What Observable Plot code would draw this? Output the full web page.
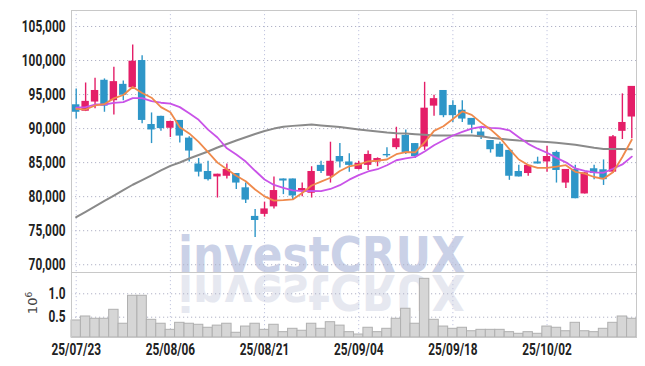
<!DOCTYPE html>
<html><head><meta charset="utf-8">
<script src="https://cdn.jsdelivr.net/npm/d3@7"></script>
<script src="https://cdn.jsdelivr.net/npm/@observablehq/plot@0.6"></script>
<style>
body{margin:0;background:#fff;}
#wrap{position:relative;width:645px;height:366px;overflow:hidden;background:#fff;}
#wrap svg{position:absolute;left:0;}
</style></head><body><div id="wrap"></div>
<script>
const dates = ["2025-07-23","2025-07-24","2025-07-25","2025-07-28","2025-07-29","2025-07-30","2025-07-31","2025-08-01","2025-08-04","2025-08-05","2025-08-06","2025-08-07","2025-08-08","2025-08-11","2025-08-12","2025-08-13","2025-08-14","2025-08-18","2025-08-19","2025-08-20","2025-08-21","2025-08-22","2025-08-25","2025-08-26","2025-08-27","2025-08-28","2025-08-29","2025-09-01","2025-09-02","2025-09-03","2025-09-04","2025-09-05","2025-09-08","2025-09-09","2025-09-10","2025-09-11","2025-09-12","2025-09-15","2025-09-16","2025-09-17","2025-09-18","2025-09-19","2025-09-22","2025-09-23","2025-09-24","2025-09-25","2025-09-26","2025-09-29","2025-09-30","2025-10-01","2025-10-02","2025-10-10","2025-10-13","2025-10-14","2025-10-15","2025-10-16","2025-10-17","2025-10-20","2025-10-21","2025-10-22"];
const open  = [93500,92550,93900,97100,94100,96500,96000,100000,90600,91800,90050,91200,88600,84800,83700,82900,83000,83400,81300,77100,77400,78500,82600,82600,80800,80500,84600,83000,85900,85100,84000,84600,85100,86200,87200,89000,87800,87300,93300,95600,93400,92700,91500,89500,88250,87700,86800,83700,83400,85100,85100,86500,82000,84000,80400,84100,83950,83600,89600,91700];
const high  = [95800,96700,97400,97300,99000,97000,102300,100700,92300,91800,91100,91200,88800,85600,85200,83300,84800,83400,82000,78100,79200,82900,82600,82600,82000,84400,85200,88000,87800,86300,85200,86700,85700,87200,90200,89800,87800,96800,94900,95600,94100,94100,91500,90000,88250,88000,86800,84600,84600,85800,87400,86700,84000,84600,83500,84600,85400,89000,95100,96200];
const low   = [91400,92500,92900,92400,92000,94100,95800,90700,87800,89600,88700,87900,85100,82900,82300,79800,82600,81050,79000,74000,77000,78200,80300,79500,80000,79800,83400,82000,84200,83600,83900,83850,84400,85700,86900,86200,85600,86800,91800,91600,90900,90900,89250,88400,86400,85800,82400,82900,83000,84800,83600,82000,81200,79700,80400,82500,81650,83400,88400,88500];
const close = [92400,94000,95600,93300,96900,94900,99900,91200,89800,90000,91050,88900,86700,83600,82500,83300,84000,82000,79500,76500,78200,80900,82300,80100,81200,83700,83700,85200,85100,84600,84900,86200,85600,86000,88500,86500,85900,93000,94400,91900,91900,91400,90500,88700,86900,85800,83000,82900,84600,84800,85900,83850,84000,79700,83500,83400,82500,88800,90900,96200];
const ma5   = [92900,92800,93400,93600,94440,94940,96120,95240,94540,93160,92390,90190,89290,88050,86550,85000,84020,83080,82260,81060,80040,79420,79480,79600,80540,81640,82200,82780,83780,84460,84700,85200,85280,85460,86240,86560,86500,87980,89660,90340,91420,92520,92020,90880,89880,88660,86980,85460,84640,84220,84240,84410,84630,83650,83390,82890,82620,83580,85820,88360];
const ma10  = [93060,93150,93540,93540,93790,93880,94470,94470,94030,93800,93665,93155,92265,91295,89855,88695,87105,86185,85155,83805,82520,81720,81280,80930,80800,80840,80810,81130,81690,82500,83170,83700,84030,84620,85350,85630,85850,86630,87560,88290,88990,89510,90000,90270,90110,90040,89750,88740,87760,87050,86450,85695,85045,84145,83805,83565,83515,84105,84735,85875];
const ma60  = [76990,77780,78570,79370,80160,80950,81750,82440,83140,83850,84520,85020,85610,86120,86640,87230,87740,88250,88720,89210,89650,90000,90280,90400,90500,90600,90470,90340,90220,90050,89870,89710,89580,89430,89330,89280,89180,89080,88990,88990,88990,88990,88990,88890,88650,88500,88370,88240,88170,88110,88030,87920,87780,87620,87400,87180,87020,87000,86990,86970];
const volume = [430000,515000,466000,466000,658000,360000,957000,957000,444000,360000,230000,380000,360000,338000,274000,320000,360000,167000,300000,360000,230000,338000,180000,252000,210000,360000,252000,393000,320000,180000,130000,274000,180000,252000,466000,680000,360000,1320000,444000,300000,252000,274000,200000,230000,230000,230000,180000,145000,180000,145000,300000,274000,200000,380000,200000,180000,252000,380000,515000,466000];
const priceTicks = [70000,75000,80000,85000,90000,95000,100000,105000];
const volTicks = [500000,1000000];
const dateTicks = ["2025-07-23","2025-08-06","2025-08-21","2025-09-04","2025-09-18","2025-10-02"];

const UP = "#e41e68", DOWN = "#2e96c8";
const rows = dates.map((d,i)=>({date:d, open:open[i], high:high[i], low:low[i], close:close[i], ma5:ma5[i], ma10:ma10[i], ma60:ma60[i], volume:volume[i]}));
const col = d => d.close >= d.open ? UP : DOWN;
const fmtDate = d => d.slice(2).replace(/-/g,"/");
const FONT = 'Roboto,"DejaVu Sans",sans-serif';
const baseStyle = {background:"transparent", fontFamily:FONT, fontSize:"16px", fontWeight:"bold", color:"#222", overflow:"visible"};
const grid = {stroke:"#b0b2c6", strokeDasharray:"1.2,2.8", strokeWidth:1};
const vgrid = {stroke:"#c2c6e0", strokeDasharray:"1.2,2.8", strokeWidth:1};
const xScale = {type:"band", domain:dates, padding:0, round:false, axis:null};

const wrap = document.getElementById("wrap");

// watermark (behind)
const wm = d3.create("svg").attr("width",645).attr("height",366).style("top","0px");
const WMF = '"DejaVu Sans",sans-serif';
wm.append("text").attr("x",178).attr("y",272).attr("textLength",287).attr("lengthAdjust","spacingAndGlyphs")
  .attr("font-family",WMF).attr("font-weight","bold").attr("font-size",50)
  .attr("fill","#cad1e7").text("investCRUX");
wm.append("text").attr("x",178).attr("y",272).attr("textLength",287).attr("lengthAdjust","spacingAndGlyphs")
  .attr("transform","translate(0,547) scale(1,-1)")
  .attr("font-family",WMF).attr("font-weight","bold").attr("font-size",50)
  .attr("fill","#e6e8f0").text("investCRUX");
wrap.appendChild(wm.node());

const price = Plot.plot({
  width:645, height:272, marginTop:10, marginBottom:0, marginLeft:71, marginRight:9,
  style:baseStyle,
  x:xScale,
  y:{domain:[68860,107350], axis:null},
  marks:[
    Plot.ruleY(priceTicks, grid),
    Plot.ruleX(dateTicks, vgrid),
    Plot.axisY(priceTicks, {tickSize:0, tickPadding:6, label:null, tickFormat:d3.format(",")}),
    Plot.ruleX(rows, {x:"date", y1:"low", y2:"high", stroke:col, strokeWidth:1.4}),
    Plot.barY(rows, {x:"date", y1:"open", y2:"close", fill:col, insetLeft:1, insetRight:1}),
    Plot.lineY(rows, {x:"date", y:"ma60", stroke:"#8a8a8a", strokeWidth:2}),
    Plot.lineY(rows, {x:"date", y:"ma10", stroke:"#c953e8", strokeWidth:1.8}),
    Plot.lineY(rows, {x:"date", y:"ma5", stroke:"#ef8a4c", strokeWidth:1.8}),
    Plot.frame({stroke:"#c8c8c8"})
  ]
});
price.style.top = "0px";
wrap.appendChild(price);

const vol = Plot.plot({
  width:645, height:94, marginTop:0, marginBottom:29, marginLeft:71, marginRight:9,
  style:baseStyle,
  x:xScale,
  y:{domain:[66000,1455000], axis:null},
  marks:[
    Plot.ruleY(volTicks, grid),
    Plot.ruleX(dateTicks, vgrid),
    Plot.axisY(volTicks, {tickSize:0, tickPadding:6, label:null, tickFormat:d=>(d/1e6).toFixed(1)}),
    Plot.axisX(dateTicks, {tickSize:0, tickPadding:6, label:null, tickFormat:fmtDate}),
    Plot.barY(rows, {x:"date", y1:66000, y2:"volume", fill:"#d6d6d6", stroke:"#b0b0b0", strokeWidth:1}),
    Plot.frame({stroke:"#c8c8c8"})
  ]
});
vol.style.top = "272px";
wrap.appendChild(vol);

// condense tick labels
[price, vol].forEach(svg => {
  svg.querySelectorAll('g[aria-label="y-axis tick label"] text, g[aria-label="x-axis tick label"] text').forEach(t => {
    const L = t.getComputedTextLength();
    t.setAttribute("textLength", (L*0.74).toFixed(1));
    t.setAttribute("lengthAdjust","spacingAndGlyphs");
  });
});

// exponent label
const lab = d3.select(vol).append("text")
  .attr("transform","translate(37,31) rotate(-90)")
  .attr("text-anchor","middle")
  .attr("font-family","\"DejaVu Sans\",sans-serif").attr("font-weight","normal").attr("font-size",13).attr("fill","#444");
lab.append("tspan").text("10");
lab.append("tspan").attr("dy",-5).attr("font-size",9).text("6");
</script></body></html>
